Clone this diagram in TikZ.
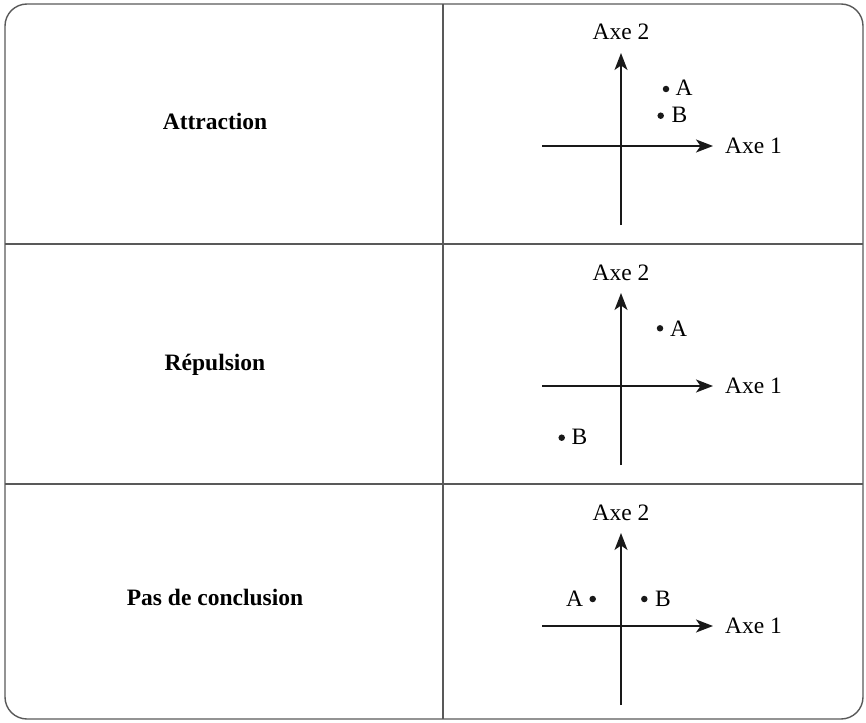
\documentclass[tikz,border=0pt]{standalone}
\usepackage{fontspec}
\setmainfont{Liberation Serif}
\usetikzlibrary{arrows.meta}
\begin{document}
\begin{tikzpicture}[x=1pt,y=-1pt,
  frame/.style={draw=black!65,line width=1.4pt},
  axis/.style={draw=black!90,line width=1.6pt},
  axarrow/.style={axis,-{Stealth[length=17pt,width=13pt,inset=4.5pt]}},
  lbl/.style={inner sep=0pt,font=\fontsize{23.5}{28}\selectfont},
  rowlbl/.style={inner sep=0pt,anchor=base,font=\fontsize{23.5}{28}\selectfont\bfseries},
  pt/.style={circle,fill=black!90,inner sep=0pt,minimum size=6.5pt}]
\useasboundingbox (0,0) rectangle (866,722);
\draw[frame,rounded corners=22pt] (5,4) rectangle (863,719);
\coordinate (vt) at (443,4); \coordinate (vb) at (443,719);
\coordinate (h1l) at (5,244); \coordinate (h1r) at (863,244);
\coordinate (h2l) at (5,484); \coordinate (h2r) at (863,484);
\draw[frame] (vt) -- (vb);
\draw[frame] (h1l) -- (h1r);
\draw[frame] (h2l) -- (h2r);
% row labels
\node[rowlbl] (l1) at (215,130) {Attraction};
\node[rowlbl] (l2) at (215,370) {Répulsion};
\node[rowlbl] (l3) at (215,605) {Pas de conclusion};
% axes
\foreach \r/\dy in {1/0,2/240,3/480}{
  \coordinate (x0\r) at (542,146+\dy);
  \coordinate (x1\r) at (713,146+\dy);
  \coordinate (y0\r) at (621,225+\dy);
  \coordinate (y1\r) at (621,53+\dy);
  \draw[axarrow] (x0\r) -- (x1\r);
  \draw[axarrow] (y0\r) -- (y1\r);
  \node[lbl,anchor=base] (ax2\r) at (621,40+\dy) {Axe 2};
  \node[lbl,anchor=base west] (ax1\r) at (725,153.3+\dy) {Axe 1};
}
% row 1 points
\node[pt] (pA1) at (666,89) {};
\node[lbl,anchor=base west] (tA1) at (675.5,96) {A};
\node[pt] (pB1) at (660.7,115.7) {};
\node[lbl,anchor=base west] (tB1) at (671.5,123) {B};
% row 2 points
\node[pt] (pA2) at (660,328.3) {};
\node[lbl,anchor=base west] (tA2) at (670,336) {A};
\node[pt] (pB2) at (561.7,437.7) {};
\node[lbl,anchor=base west] (tB2) at (571.5,444) {B};
% row 3 points
\node[pt] (pA3) at (592.7,599) {};
\node[lbl,anchor=base east] (tA3) at (583.3,606) {A};
\node[pt] (pB3) at (644.3,599) {};
\node[lbl,anchor=base west] (tB3) at (655,606) {B};
\end{tikzpicture}
\end{document}
